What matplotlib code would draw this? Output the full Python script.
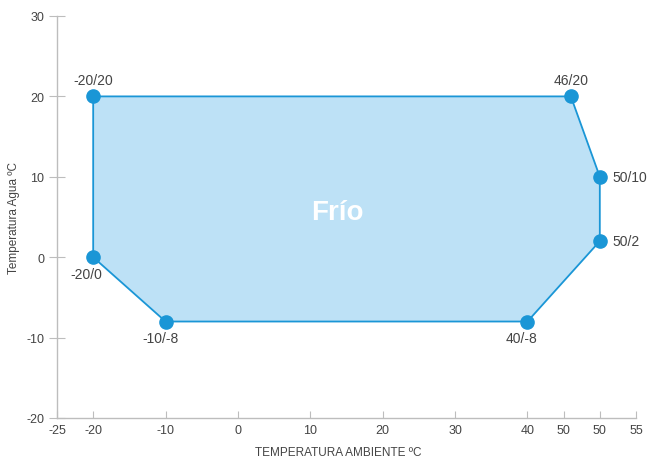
import matplotlib
matplotlib.use("Agg")
import matplotlib.pyplot as plt
from matplotlib.patches import Polygon

plt.rcParams['font.family'] = ['Liberation Sans', 'DejaVu Sans']
plt.rcParams['axes.unicode_minus'] = False

# envelope points (ambient temp, water temp)
amb = [-20, 46, 50, 50, 40, -10, -20]
agua = [20, 20, 10, 2, -8, -8, 0]
point_labels = ['-20/20', '46/20', '50/10', '50/2', '40/-8', '-10/-8', '-20/0']
# where each label goes relative to its point
label_pos = ['above', 'above', 'right', 'right', 'below', 'below', 'below']

xticks = [-25, -20, -10, 0, 10, 20, 30, 40, 45, 50, 55]
xtick_labels = ['-25', '-20', '-10', '0', '10', '20', '30', '40', '50', '50', '55']
yticks = [-20, -10, 0, 10, 20, 30]

blue = '#1a96d6'
fill = '#bde1f6'
grey = '#bdbdbd'
txt = '#444444'

fig = plt.figure(figsize=(6.49, 4.6), dpi=100)
ax = fig.add_axes([57 / 649, 41 / 460, 579 / 649, 402 / 460])

poly = Polygon(list(zip(amb, agua)), closed=True, facecolor=fill,
               edgecolor=blue, linewidth=1.3, zorder=2)
ax.add_patch(poly)
ax.plot(amb, agua, 'o', color=blue, markersize=9.5, zorder=3, clip_on=False)

for x, y, lab, pos in zip(amb, agua, point_labels, label_pos):
    if pos == 'above':
        ax.annotate(lab, (x, y), xytext=(0, 7), textcoords='offset points',
                    ha='center', va='bottom', fontsize=10, color=txt)
    elif pos == 'below':
        dx = -5 if lab == '-20/0' else -4
        ax.annotate(lab, (x, y), xytext=(dx, -7), textcoords='offset points',
                    ha='center', va='top', fontsize=10, color=txt)
    else:
        ax.annotate(lab, (x, y), xytext=(9, 0), textcoords='offset points',
                    ha='left', va='center', fontsize=10, color=txt)

ax.text(13.8, 5.6, 'Frío', ha='center', va='center', fontsize=20,
        fontweight='bold', color='white', zorder=4)

ax.set_xlim(-25, 55)
ax.set_ylim(-20, 30)
ax.set_xticks(xticks)
ax.set_xticklabels(xtick_labels)
ax.set_yticks(yticks)

for s in ['top', 'right']:
    ax.spines[s].set_visible(False)
for s in ['left', 'bottom']:
    ax.spines[s].set_color(grey)
    ax.spines[s].set_linewidth(1.0)

ax.tick_params(axis='y', direction='inout', length=12, color=grey,
               labelcolor=txt, labelsize=9, pad=3)
ax.tick_params(axis='x', direction='in', length=5, color=grey,
               labelcolor=txt, labelsize=9, pad=4)

ax.set_xlabel('TEMPERATURA AMBIENTE ºC', fontsize=8.5, color=txt, va='center')
ax.set_ylabel('Temperatura Agua ºC', fontsize=8.5, color=txt, va='center')
ax.xaxis.set_label_coords(0.485, -0.085)
ax.yaxis.set_label_coords(-0.074, 0.5)

fig.savefig('out.png', dpi=100)
